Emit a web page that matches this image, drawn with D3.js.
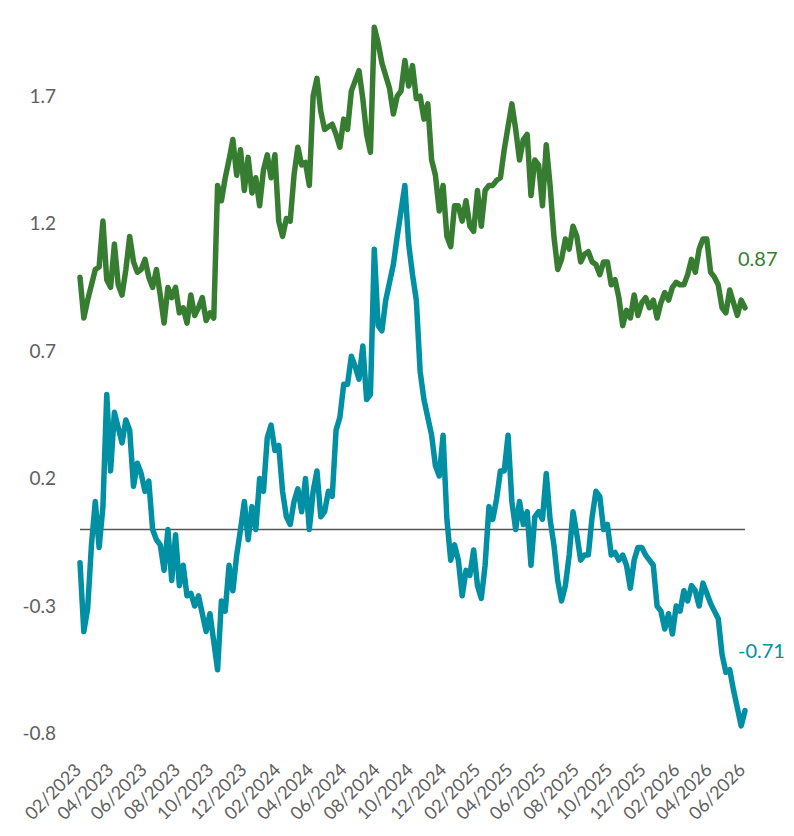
<!DOCTYPE html>
<html>
<head>
<meta charset="utf-8">
<script src="https://cdnjs.cloudflare.com/ajax/libs/d3/7.8.5/d3.min.js"></script>
<style>
  body { margin: 0; background: #fff; }
  text { font-family: "Lato", "Open Sans", sans-serif; }
</style>
</head>
<body>
<script>
// weekly observations, first one on 1 Feb 2023
var startDate = "2023-02-01";

// green series
var greenValues = [0.99, 0.83, 0.90, 0.96, 1.02, 1.03, 1.21, 0.98, 0.95, 1.12,
  0.96, 0.92, 1.02, 1.15, 1.05, 1.01, 1.02, 1.06, 0.99, 0.95,
  1.02, 0.92, 0.81, 0.95, 0.91, 0.95, 0.85, 0.87, 0.81, 0.92,
  0.84, 0.87, 0.91, 0.82, 0.85, 0.83, 1.35, 1.29, 1.38, 1.45,
  1.53, 1.39, 1.49, 1.33, 1.46, 1.32, 1.38, 1.27, 1.41, 1.47,
  1.38, 1.47, 1.21, 1.15, 1.22, 1.21, 1.39, 1.50, 1.43, 1.44,
  1.35, 1.70, 1.77, 1.64, 1.57, 1.58, 1.59, 1.55, 1.50, 1.61,
  1.57, 1.72, 1.76, 1.80, 1.69, 1.55, 1.48, 1.97, 1.91, 1.83,
  1.78, 1.73, 1.63, 1.70, 1.72, 1.84, 1.74, 1.82, 1.69, 1.70,
  1.61, 1.67, 1.45, 1.39, 1.25, 1.35, 1.15, 1.11, 1.27, 1.27,
  1.21, 1.29, 1.19, 1.17, 1.33, 1.19, 1.33, 1.35, 1.35, 1.37,
  1.38, 1.49, 1.58, 1.67, 1.57, 1.45, 1.53, 1.55, 1.31, 1.45,
  1.43, 1.27, 1.51, 1.35, 1.15, 1.02, 1.06, 1.14, 1.10, 1.19,
  1.15, 1.05, 1.08, 1.09, 1.05, 1.04, 1.00, 1.05, 1.05, 0.96,
  0.98, 0.91, 0.80, 0.86, 0.83, 0.92, 0.84, 0.89, 0.91, 0.87,
  0.90, 0.83, 0.89, 0.93, 0.90, 0.95, 0.97, 0.96, 0.96, 1.00,
  1.06, 1.01, 1.10, 1.14, 1.14, 1.01, 0.99, 0.96, 0.87, 0.85,
  0.94, 0.89, 0.84, 0.90, 0.87];

// teal series
var tealValues = [-0.13, -0.40, -0.31, -0.06, 0.11, -0.07, 0.09, 0.53, 0.23, 0.46,
  0.40, 0.34, 0.43, 0.39, 0.17, 0.26, 0.22, 0.15, 0.19, 0.00,
  -0.04, -0.06, -0.16, 0.00, -0.20, -0.02, -0.22, -0.14, -0.26, -0.25,
  -0.30, -0.26, -0.33, -0.40, -0.33, -0.44, -0.55, -0.28, -0.32, -0.14,
  -0.24, -0.10, 0.00, 0.11, -0.04, 0.09, 0.00, 0.20, 0.15, 0.36,
  0.41, 0.31, 0.33, 0.15, 0.05, 0.02, 0.11, 0.16, 0.07, 0.20,
  0.00, 0.15, 0.23, 0.05, 0.07, 0.15, 0.13, 0.39, 0.44, 0.57,
  0.57, 0.68, 0.64, 0.59, 0.72, 0.51, 0.53, 1.10, 0.80, 0.78,
  0.90, 0.97, 1.04, 1.15, 1.25, 1.35, 1.12, 1.00, 0.90, 0.62,
  0.51, 0.44, 0.37, 0.25, 0.21, 0.37, 0.04, -0.12, -0.06, -0.12,
  -0.26, -0.16, -0.18, -0.08, -0.22, -0.27, -0.14, 0.09, 0.04, 0.12,
  0.23, 0.23, 0.37, 0.11, 0.00, 0.11, 0.02, 0.07, -0.14, 0.05,
  0.07, 0.04, 0.22, 0.04, -0.06, -0.20, -0.28, -0.22, -0.10, 0.07,
  -0.02, -0.12, -0.10, -0.10, 0.05, 0.15, 0.13, 0.00, 0.02, -0.10,
  -0.09, -0.12, -0.10, -0.14, -0.23, -0.12, -0.07, -0.07, -0.10, -0.12,
  -0.14, -0.30, -0.32, -0.39, -0.33, -0.41, -0.30, -0.32, -0.24, -0.28,
  -0.22, -0.24, -0.30, -0.21, -0.25, -0.29, -0.32, -0.35, -0.49, -0.56,
  -0.55, -0.63, -0.70, -0.77, -0.71];

// y axis tick labels
var yTicks = [-0.8, -0.3, 0.2, 0.7, 1.2, 1.7];

// x axis tick labels
var xTickLabels = ["02/2023", "04/2023", "06/2023", "08/2023", "10/2023", "12/2023",
  "02/2024", "04/2024", "06/2024", "08/2024", "10/2024", "12/2024",
  "02/2025", "04/2025", "06/2025", "08/2025", "10/2025", "12/2025",
  "02/2026", "04/2026", "06/2026"];

var width = 794;
var height = 836;

var green = "#377d31";
var teal = "#008fa3";
var grey = "#606060";

// plain hyphen for negative numbers
var locale = d3.formatLocale({decimal: ".", thousands: ",", grouping: [3],
  currency: ["", ""], minus: "-"});

var svg = d3.select("body").append("svg")
  .attr("width", width)
  .attr("height", height);

//dates for every observation
var parseDate = d3.timeParse("%Y-%m-%d");
var parseMonth = d3.timeParse("%m/%Y");
var dates = greenValues.map(function(d, i) {
  return d3.timeDay.offset(parseDate(startDate), i * 7);
});

var x = d3.scaleTime()
  .domain(d3.extent(dates))
  .range([80, 745]);

var y = d3.scaleLinear()
  .domain([-0.8, 1.7])
  .range([733.5, 96.2]);

//left axis, labels only
var yAxis = d3.axisLeft(y)
  .tickValues(yTicks)
  .tickSize(0)
  .tickPadding(0)
  .tickFormat(locale.format(".1f"));

svg.append("g")
  .attr("class", "y axis")
  .attr("transform", "translate(56,0)")
  .call(yAxis)
  .call(function(g) { g.select(".domain").remove(); })
  .selectAll("text")
    .attr("fill", grey)
    .style("font-size", "19px");

//bottom axis, every second month
var xAxis = d3.axisBottom(x)
  .tickValues(xTickLabels.map(parseMonth))
  .tickSize(0)
  .tickFormat(d3.timeFormat("%m/%Y"));

svg.append("g")
  .attr("class", "xAxis")
  .attr("transform", "translate(0,752)")
  .call(xAxis)
  .call(function(g) { g.select(".domain").remove(); })
  .selectAll("text")
    .attr("fill", grey)
    .style("font-size", "18px")
    .style("text-anchor", "end")
    .attr("y", 0)
    .attr("dy", 0)
    .attr("transform", "translate(2,19) rotate(-45)");

//zero line
svg.append("line")
  .attr("x1", x.range()[0])
  .attr("x2", x.range()[1])
  .attr("y1", y(0))
  .attr("y2", y(0))
  .attr("stroke", "#555")
  .attr("stroke-width", 1.5);

var line = d3.line()
  .x(function(d) { return x(d.date); })
  .y(function(d) { return y(d.value); });

var series = [
  {name: "green", values: greenValues, color: green, dy: -49},
  {name: "teal", values: tealValues, color: teal, dy: -60}
];

series.forEach(function(s) {
  var pts = s.values.map(function(v, i) {
    return {date: dates[i], value: v};
  });

  svg.append("path")
    .datum(pts)
    .attr("fill", "none")
    .attr("stroke", s.color)
    .attr("stroke-width", 5.5)
    .attr("stroke-linejoin", "round")
    .attr("stroke-linecap", "round")
    .attr("d", line);

  //label with the last value
  var last = pts[pts.length - 1];
  svg.append("text")
    .attr("x", x(last.date) - 7)
    .attr("y", y(last.value) + s.dy)
    .attr("dy", "0.35em")
    .attr("fill", s.color)
    .style("font-size", "20px")
    .text(locale.format(".2f")(last.value));
});
</script>
</body>
</html>
